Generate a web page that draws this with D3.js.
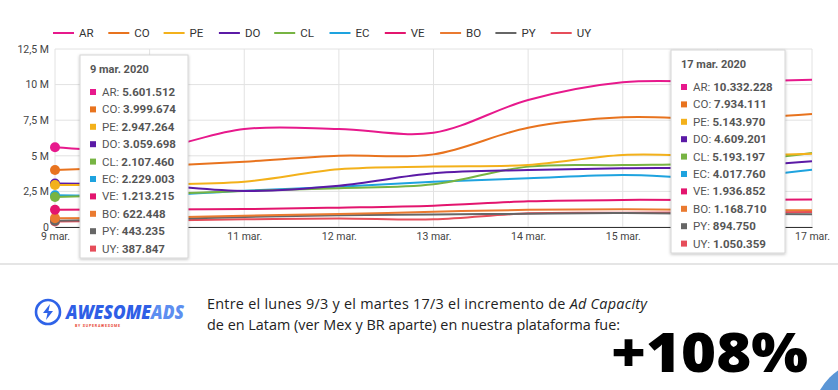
<!DOCTYPE html>
<html>
<head>
<meta charset="utf-8">
<script src="https://cdn.jsdelivr.net/npm/d3@7"></script>
<style>
  body { margin: 0; background: #fff; }
  svg { display: block; font-family: Roboto, sans-serif; }
</style>
</head>
<body>
<svg width="838" height="390"></svg>
<script>
const svg = d3.select('svg');

const width = +svg.attr('width');
const height = +svg.attr('height');

// data
const days = [9, 10, 11, 12, 13, 14, 15, 16, 17];
const dayLabels = ['9 mar.', '10 mar.', '11 mar.', '12 mar.', '13 mar.', '14 mar.', '15 mar.', '16 mar.', '17 mar.'];
const yTicks = [0, 2500000, 5000000, 7500000, 10000000, 12500000];
const countries = ['AR', 'CO', 'PE', 'DO', 'CL', 'EC', 'VE', 'BO', 'PY', 'UY'];
const colors = ['#e7198c', '#e8731e', '#f3b11b', '#5b1aa6', '#77b443', '#1ea3df', '#e3156e', '#ea7a30', '#666666', '#e64d5a'];

const AR = [5601512, 5450000, 6880000, 6880000, 6620000, 8920000, 10160000, 10200000, 10332228];
const CO = [3999674, 4250000, 4590000, 5000000, 5100000, 6970000, 7700000, 7600000, 7934111];
const PE = [2947264, 3000000, 3180000, 4050000, 4240000, 4350000, 5060000, 5000000, 5143970];
const DO = [3059698, 2950000, 2530000, 2900000, 3770000, 4000000, 4120000, 4200000, 4609201];
const CL = [2107460, 2300000, 2530000, 2720000, 3000000, 4240000, 4350000, 4500000, 5193197];
const EC = [2229003, 2200000, 2550000, 2830000, 3180000, 3420000, 3650000, 3450000, 4017760];
const VE = [1213215, 1230000, 1260000, 1360000, 1500000, 1800000, 1900000, 1900000, 1936852];
const BO = [622448, 650000, 790000, 910000, 1070000, 1210000, 1250000, 1200000, 1168710];
const PY = [443235, 550000, 700000, 820000, 880000, 930000, 980000, 920000, 894750];
const UY = [387847, 450000, 540000, 600000, 540000, 960000, 1000000, 1030000, 1050359];

const seriesValues = [AR, CO, PE, DO, CL, EC, VE, BO, PY, UY];

const series = countries.map((c, i) => ({ name: c, color: colors[i], values: seriesValues[i] }));

const margin = { left: 55, right: 26, top: 49, bottom: 163 };
const innerWidth = width - margin.left - margin.right;
const innerHeight = height - margin.top - margin.bottom;

const xScale = d3.scaleLinear().domain([9, 17]).range([0, innerWidth]);
const yScale = d3.scaleLinear().domain([0, 12500000]).range([innerHeight, 0]);

const es = d3.formatLocale({ decimal: ',', thousands: '.', grouping: [3], currency: ['', ''] });
const fmtInt = es.format(',d');
const fmtM = (v) => (v === 0 ? '0' : es.format(',.2~f')(v / 1e6) + ' M');

const defs = svg.append('defs');
const shadow = defs.append('filter').attr('id', 'shadow').attr('x', '-10%').attr('y', '-10%').attr('width', '130%').attr('height', '130%');
shadow.append('feDropShadow').attr('dx', 0).attr('dy', 1).attr('stdDeviation', 1.5).attr('flood-color', '#000').attr('flood-opacity', 0.25);

// legend
const legend = svg.append('g').attr('transform', 'translate(53, 33)');
const legendItem = legend.selectAll('g').data(series).enter().append('g')
  .attr('transform', (d, i) => `translate(${i * 55.3}, 0)`);
legendItem.append('line').attr('x1', 0).attr('x2', 21).attr('stroke', (d) => d.color).attr('stroke-width', 2);
legendItem.append('text').attr('x', 26).attr('dy', '0.35em').attr('font-size', 11.5).attr('fill', '#333').text((d) => d.name);

const g = svg.append('g').attr('transform', `translate(${margin.left}, ${margin.top})`);

// grid
g.append('g').selectAll('line').data(yTicks).enter().append('line')
  .attr('x1', 0).attr('x2', innerWidth)
  .attr('y1', (d) => yScale(d)).attr('y2', (d) => yScale(d))
  .attr('stroke', '#e2e2e2');
g.append('g').selectAll('line').data(days).enter().append('line')
  .attr('x1', (d) => xScale(d)).attr('x2', (d) => xScale(d))
  .attr('y1', 0).attr('y2', innerHeight)
  .attr('stroke', '#e2e2e2');

// axes
const yAxis = d3.axisLeft(yScale).tickValues(yTicks).tickFormat(fmtM).tickSize(0).tickPadding(6);
const yG = g.append('g').call(yAxis);
yG.select('.domain').remove();
yG.selectAll('text').attr('font-size', 10.5).attr('fill', '#444').attr('font-family', 'Roboto, sans-serif');

const xAxis = d3.axisBottom(xScale).tickValues(days).tickFormat((d, i) => dayLabels[i]).tickSize(0).tickPadding(6);
const xG = g.append('g').attr('transform', `translate(0, ${innerHeight})`).call(xAxis);
xG.select('.domain').attr('stroke', '#333').attr('stroke-width', 1.2);
xG.selectAll('text').attr('font-size', 10.5).attr('fill', '#444').attr('font-family', 'Roboto, sans-serif');

// lines
const line = d3.line().x((d, i) => xScale(days[i])).y((d) => yScale(d)).curve(d3.curveCatmullRom.alpha(0.5));
g.append('g').selectAll('path').data(series.slice().reverse()).enter().append('path')
  .attr('d', (d) => line(d.values))
  .attr('fill', 'none')
  .attr('stroke', (d) => d.color)
  .attr('stroke-width', 2);

// hover markers at first date
g.append('g').selectAll('circle').data(series.slice().reverse()).enter().append('circle')
  .attr('cx', xScale(days[0]))
  .attr('cy', (d) => yScale(d.values[0]))
  .attr('r', 5)
  .attr('fill', (d) => d.color);

// tooltips
const tooltip = (x, y, w, title, idx) => {
  const t = svg.append('g').attr('transform', `translate(${x}, ${y})`);
  t.append('rect').attr('width', w).attr('height', 203).attr('fill', '#fff')
    .attr('stroke', '#d6d6d6').attr('filter', 'url(#shadow)');
  t.append('text').attr('x', 10).attr('y', 18).attr('font-size', 11).attr('font-weight', 'bold')
    .attr('fill', '#555').text(title);
  const row = t.selectAll('g.row').data(series).enter().append('g')
    .attr('transform', (d, i) => `translate(10, ${37 + i * 17.4})`);
  row.append('rect').attr('x', 0).attr('y', -3).attr('width', 6).attr('height', 6).attr('fill', (d) => d.color);
  const txt = row.append('text').attr('x', 12).attr('dy', '0.35em').attr('font-size', 11.5).attr('fill', '#555');
  txt.append('tspan').text((d) => d.name + ': ');
  txt.append('tspan').attr('font-weight', 'bold').text((d) => fmtInt(d.values[idx]));
};
tooltip(80, 55, 108, '9 mar. 2020', 0);
tooltip(671, 50, 114, '17 mar. 2020', 8);

// separator
svg.append('line').attr('x1', 0).attr('x2', width).attr('y1', 264).attr('y2', 264).attr('stroke', '#dcdcdc').attr('stroke-width', 1.5);

// logo
const logo = svg.append('g').attr('transform', 'translate(48, 312)');
logo.append('circle').attr('r', 12).attr('fill', 'none').attr('stroke', '#2f63e8').attr('stroke-width', 2.6);
logo.append('path').attr('d', 'M2,-8 L-5,1 L-0.5,1 L-2,8 L5,-1 L0.5,-1 Z').attr('fill', '#2f63e8');
logo.append('text').attr('x', 18).attr('y', 7).attr('font-family', '"Open Sans", sans-serif')
  .attr('font-size', 19).attr('font-weight', 800).attr('font-style', 'italic')
  .attr('textLength', 118).attr('lengthAdjust', 'spacingAndGlyphs')
  .call((s) => {
    s.append('tspan').attr('fill', '#2f5fe6').text('AWESOME');
    s.append('tspan').attr('fill', '#5d8ef0').text('ADS');
  });
logo.append('text').attr('x', 27).attr('y', 14.5).attr('font-size', 3.6).attr('fill', '#e8452f')
  .attr('font-weight', 'bold').attr('letter-spacing', 0.8).text('BY SUPERAWESOME');

// message
const msg = svg.append('text').attr('x', 207).attr('y', 309).attr('font-family', '"Open Sans", sans-serif')
  .attr('font-size', 14.4).attr('font-weight', 500).attr('fill', '#222')
  .attr('textLength', 440).attr('lengthAdjust', 'spacing');
msg.append('tspan').text('Entre el lunes 9/3 y el martes 17/3 el incremento de ');
msg.append('tspan').attr('font-style', 'italic').text('Ad Capacity');
svg.append('text').attr('x', 207).attr('y', 330).attr('font-family', '"Open Sans", sans-serif')
  .attr('font-size', 14.4).attr('font-weight', 500).attr('fill', '#222')
  .attr('textLength', 413).attr('lengthAdjust', 'spacing')
  .text('de en Latam (ver Mex y BR aparte) en nuestra plataforma fue:');

svg.append('text').attr('x', 611).attr('y', 372).attr('font-family', '"Open Sans", sans-serif')
  .attr('font-size', 54).attr('font-weight', 800).attr('fill', '#000')
  .attr('textLength', 197).attr('lengthAdjust', 'spacingAndGlyphs').text('+108%');

svg.append('circle').attr('cx', 872).attr('cy', 420).attr('r', 60).attr('fill', '#5b96d6');
</script>
</body>
</html>
